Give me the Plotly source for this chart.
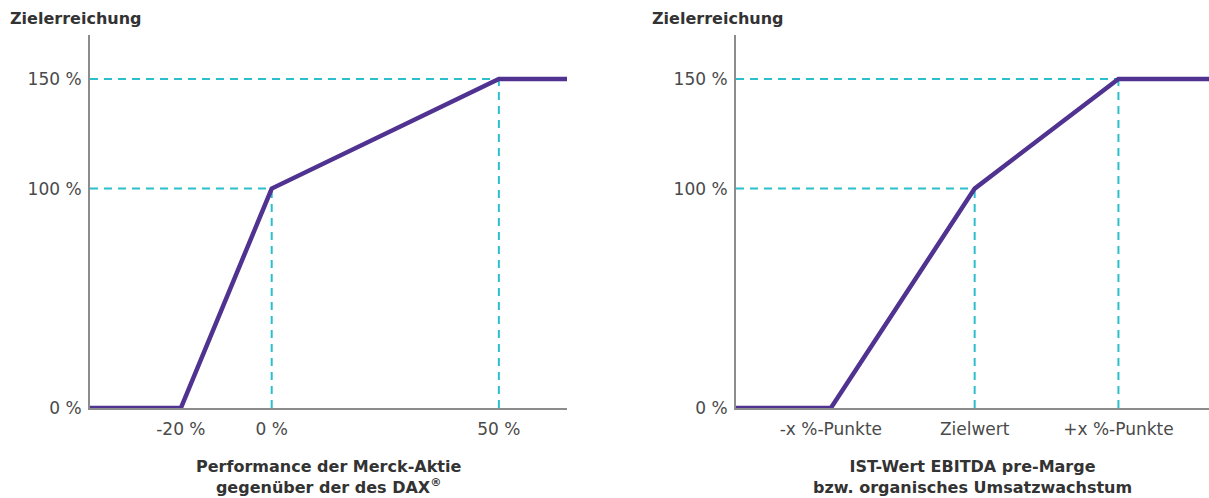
import plotly.graph_objects as go
from plotly.subplots import make_subplots

# Left chart: relative performance vs. DAX (in %), target achievement (in %)
perf_x = [-40, -20, 0, 50, 65]
perf_y = [0, 0, 100, 150, 150]
perf_ticks = [-20, 0, 50]
perf_ticktext = ["-20 %", "0 %", "50 %"]

# Right chart: deviation from target (positions -x, target, +x)
ebitda_x = [-1.66, -1, 0, 1, 1.63]
ebitda_y = [0, 0, 100, 150, 150]
ebitda_ticks = [-1, 0, 1]
ebitda_ticktext = ["-x %-Punkte", "Zielwert", "+x %-Punkte"]

y_ticks = [0, 100, 150]
y_ticktext = ["0 %", "100 %", "150 %"]

# Kink points that get dashed guide lines
perf_guides = [(0, 100), (50, 150)]
ebitda_guides = [(0, 100), (1, 150)]

PURPLE = "#503291"
CYAN = "#2DBECD"
AXIS = "#8c8c8c"
TICK_TEXT = "#4a4a4a"
TITLE_TEXT = "#333333"
FONT = "DejaVu Sans"

W, H = 1209, 498
x1 = (90 / W, 567 / W)
x2 = (736 / W, 1.0)
yd = ((H - 408) / H, (H - 35) / H)

fig = make_subplots(rows=1, cols=2)


def add_panel(col, xs, ys, guides):
    xref_min = xs[0]
    for gx, gy in guides:
        fig.add_trace(go.Scatter(x=[xref_min, gx], y=[gy, gy], mode="lines",
                                 line=dict(color=CYAN, width=2, dash="8px,6px"),
                                 hoverinfo="skip", showlegend=False), row=1, col=col)
        fig.add_trace(go.Scatter(x=[gx, gx], y=[0, gy], mode="lines",
                                 line=dict(color=CYAN, width=2, dash="8px,6px"),
                                 hoverinfo="skip", showlegend=False), row=1, col=col)
    fig.add_trace(go.Scatter(x=xs, y=ys, mode="lines",
                             line=dict(color=PURPLE, width=4.5),
                             showlegend=False, cliponaxis=False), row=1, col=col)


add_panel(1, perf_x, perf_y, perf_guides)
add_panel(2, ebitda_x, ebitda_y, ebitda_guides)

axis_common = dict(showgrid=False, zeroline=False, showline=True, linecolor=AXIS,
                   linewidth=2, ticks="", automargin=False,
                   tickfont=dict(family=FONT, size=17, color=TICK_TEXT))

fig.update_xaxes(domain=list(x1), range=[perf_x[0], perf_x[-1]], tickvals=perf_ticks,
                 ticktext=perf_ticktext, ticklabelstandoff=5, row=1, col=1, **axis_common)
fig.update_xaxes(domain=list(x2), range=[ebitda_x[0], ebitda_x[-1]], tickvals=ebitda_ticks,
                 ticktext=ebitda_ticktext, ticklabelstandoff=5, row=1, col=2, **axis_common)
fig.update_yaxes(domain=list(yd), range=[0, 170], tickvals=y_ticks, ticktext=y_ticktext,
                 ticklabelstandoff=3, **axis_common)

title_font = dict(family=FONT, size=16, color=TITLE_TEXT, weight="bold")
annotations = [
    dict(text="Zielerreichung", x=8 / W, y=1 - 18 / H, xanchor="left", yanchor="middle"),
    dict(text="Zielerreichung", x=650 / W, y=1 - 18 / H, xanchor="left", yanchor="middle"),
    dict(text="Performance der Merck-Aktie<br>gegenüber der des DAX<sup>®</sup>",
         x=(x1[0] + x1[1]) / 2, y=1 - 477 / H, xanchor="center", yanchor="middle"),
    dict(text="IST-Wert EBITDA pre-Marge<br>bzw. organisches Umsatzwachstum",
         x=(x2[0] + x2[1]) / 2, y=1 - 477 / H, xanchor="center", yanchor="middle"),
]
for a in annotations:
    fig.add_annotation(xref="paper", yref="paper", showarrow=False, font=title_font, **a)

fig.update_layout(width=W, height=H, autosize=False, margin=dict(l=0, r=0, t=0, b=0, pad=0),
                  paper_bgcolor="white", plot_bgcolor="white")

fig.write_html("out.html")
